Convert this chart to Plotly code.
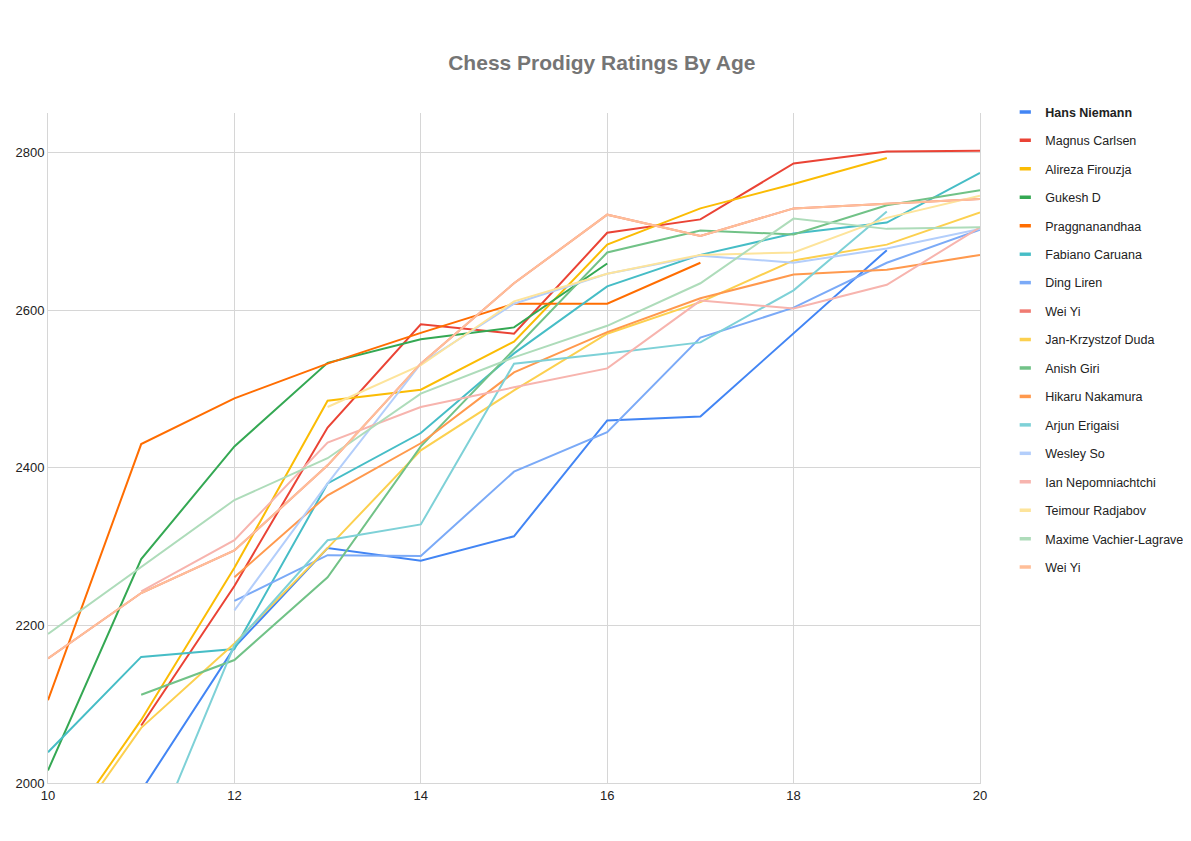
import plotly.graph_objects as go

ages = [10, 11, 12, 13, 14, 15, 16, 17, 18, 19, 20]

players = ["Hans Niemann", "Magnus Carlsen", "Alireza Firouzja", "Gukesh D", "Praggnanandhaa",
           "Fabiano Caruana", "Ding Liren", "Wei Yi", "Jan-Krzystzof Duda", "Anish Giri",
           "Hikaru Nakamura", "Arjun Erigaisi", "Wesley So", "Ian Nepomniachtchi",
           "Teimour Radjabov", "Maxime Vachier-Lagrave", "Wei Yi"]

hans = [None, 1990, 2172, 2298, 2282, 2313, 2460, 2465, 2570, 2676, None]
carlsen = [None, 2073, 2250, 2451, 2582, 2570, 2698, 2715, 2786, 2801, 2802]
firouzja = [1910, 2080, 2273, 2485, 2499, 2560, 2683, 2729, 2760, 2793, None]
gukesh = [2016, 2284, 2427, 2533, 2563, 2578, 2659, None, None, None, None]
pragg = [2105, 2430, 2488, 2532, 2571, 2608, 2608, 2660, None, None, None]
caruana = [2039, 2160, 2170, 2380, 2444, 2545, 2630, 2670, 2697, 2711, 2774]
ding = [None, None, 2231, 2289, 2288, 2395, 2445, 2565, 2603, 2660, 2702]
weiyi = [2158, 2241, 2295, 2403, 2532, 2634, 2721, 2694, 2729, 2735, 2741]
duda = [1902, 2070, 2177, 2298, 2422, 2498, 2570, 2610, 2663, 2683, 2724]
giri = [None, 2112, 2156, 2261, 2427, 2550, 2673, 2701, 2696, 2733, 2752]
nakamura = [None, None, 2261, 2365, 2431, 2521, 2572, 2615, 2645, 2651, 2670]
arjun = [None, 1890, 2175, 2308, 2328, 2532, 2545, 2559, 2625, 2725, None]
wesley = [None, None, 2219, 2380, 2532, 2608, 2646, 2669, 2660, 2678, 2703]
ian = [None, 2243, 2308, 2432, 2477, 2502, 2526, 2612, 2602, 2632, 2705]
radjabov = [None, None, None, 2477, 2530, 2611, 2646, 2670, 2673, 2717, 2745]
mvl = [2189, 2274, 2359, 2412, 2494, 2540, 2580, 2634, 2716, 2703, 2705]
weiyi2 = [2158, 2241, 2295, 2403, 2532, 2634, 2721, 2694, 2729, 2735, 2741]

series = [hans, carlsen, firouzja, gukesh, pragg, caruana, ding, weiyi, duda, giri,
          nakamura, arjun, wesley, ian, radjabov, mvl, weiyi2]

colors = ["#4285F4", "#EA4335", "#FBBC04", "#34A853", "#FF6D01", "#46BDC6", "#7BAAF7",
          "#F07B72", "#FCD04F", "#71C287", "#FF994D", "#7ED1D7", "#B3CEFB", "#F7B4AE",
          "#FDE49B", "#AEDCBA", "#FFBE98"]

fig = go.Figure()
for i, (name, vals, c) in enumerate(zip(players, series, colors)):
    fig.add_trace(go.Scatter(x=ages, y=vals, mode="lines", name=name,
                             line=dict(color=c, width=2), showlegend=False,
                             legendgroup=f"g{i}", connectgaps=False))

for i, (name, c) in enumerate(zip(players, colors)):
    label = f"<b>{name}</b>" if i == 0 else name
    fig.add_trace(go.Scatter(x=[None], y=[None], mode="markers", name=label,
                             legendgroup=f"g{i}",
                             marker=dict(symbol="line-ew", size=8, color=c,
                                         line=dict(width=3.5, color=c))))

grid = "#d6d6d6"
fig.update_layout(
    width=1183, height=833,
    margin=dict(l=40, r=211, t=105, b=58, autoexpand=False),
    paper_bgcolor="white", plot_bgcolor="white",
    font=dict(family="Liberation Sans, Arial, sans-serif", size=12, color="#222222"),
    title=dict(text="<b>Chess Prodigy Ratings By Age</b>", x=0.502, xref="container",
               xanchor="center", y=0.934, yref="container", yanchor="middle",
               font=dict(family="Liberation Sans, Arial, sans-serif", size=21, color="#757575")),
    xaxis=dict(range=[10, 20], dtick=2, tick0=10, showgrid=True, gridcolor=grid,
               showline=True, linecolor=grid, zeroline=False, ticks="",
               tickfont=dict(size=13, color="#222222"), automargin=False),
    yaxis=dict(range=[2000, 2850], tickvals=[2000, 2200, 2400, 2600, 2800],
               showgrid=True, gridcolor=grid, showline=True, linecolor=grid, mirror=True,
               zeroline=False, ticks="", tickfont=dict(size=13, color="#222222"),
               automargin=False),
    legend=dict(x=0.843, xref="container", xanchor="left",
                y=0.8928, yref="container", yanchor="top",
                tracegroupgap=9.2, font=dict(size=12.5, color="#222222"),
                bgcolor="rgba(0,0,0,0)", itemwidth=30, maxheight=760),
    showlegend=True,
)

fig.write_html("out.html")
